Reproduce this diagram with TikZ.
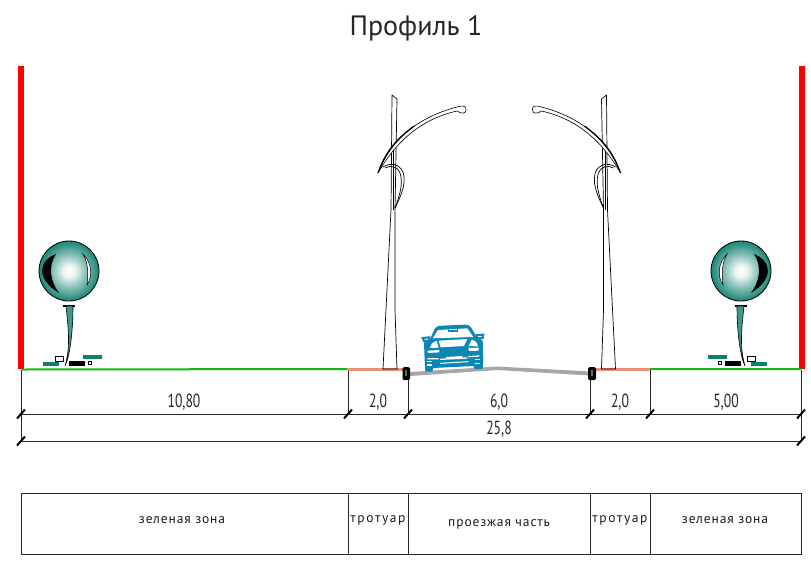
\documentclass[tikz,border=0pt]{standalone}
\usepackage{fontspec}
\setmainfont{PT Sans}
\newfontfamily\dimfont[FakeStretch=0.72]{PT Sans}
\newfontfamily\cellfont[LetterSpace=6.5]{PT Sans}
\newfontfamily\walkfont[LetterSpace=12]{PT Sans}
\definecolor{redwall}{HTML}{FF0000}
\definecolor{grass}{HTML}{10B810}
\definecolor{walk}{HTML}{E8927A}
\definecolor{roadgray}{HTML}{A6A6A6}
\definecolor{carblue}{HTML}{0C86B2}
\definecolor{treeteal}{HTML}{0E8070}
\pgfdeclareradialshading{ballteal}{\pgfpoint{0bp}{0bp}}{color(0bp)=(white); color(5bp)=(white!92!treeteal); color(14bp)=(treeteal!50); color(24bp)=(treeteal!92); color(32bp)=(treeteal); color(50bp)=(treeteal)}
\tikzset{
  redline/.style={draw=redwall,line width=5.6pt},
  grassline/.style={draw=grass,line width=2pt},
  walkline/.style={draw=walk,line width=3pt},
  extline/.style={draw=black!85,line width=.9pt},
  dimline/.style={draw=black!85,line width=.9pt},
  tick/.style={draw=black,line width=2pt},
  dimtext/.style={font=\dimfont\fontsize{19}{21}\selectfont,text=black!85,inner sep=0pt},
  cell/.style={draw=black!85,line width=.9pt,inner sep=0pt,anchor=north west},
  celltext/.style={inner sep=0pt,text=black!90,font=\cellfont\fontsize{13.5}{15}\selectfont},
  walktext/.style={inner sep=0pt,text=black!90,font=\walkfont\fontsize{13.5}{15}\selectfont},
  lampline/.style={draw=black,line width=.7pt,line join=round},
  treepic/.pic={
    \shade[shading=ballteal] (0,0) circle (30);
    \draw[black,line width=.8pt] (0,0) circle (30);
    \fill[black] (-13,-17) .. controls (-31,-10) and (-33,8) .. (-10,22) .. controls (-19,10) and (-21,-5) .. (-13,-17) -- cycle;
    \filldraw[fill=white,draw=black,line width=.5pt] (14,-17) .. controls (23,-8) and (24,5) .. (18,14) .. controls (19,4) and (20,-6) .. (14,-17) -- cycle;
    \draw[black,line width=1.3pt] (-6,35) -- (6,35);
    \filldraw[fill=treeteal!80,draw=black,line width=.6pt] (-3,35) .. controls (-1,55) and (2,75) .. (-4,95) .. controls (1,85) and (4,60) .. (4,35) -- cycle;
    \fill[treeteal] (-26,91) rectangle (-10,95);
    \filldraw[fill=white,draw=black,line width=.6pt] (-14,85) rectangle (-6,90);
    \fill[black] (0,90) rectangle (16,95);
    \fill[treeteal] (14,84) rectangle (33,88);
    \filldraw[fill=white,draw=black,line width=.6pt] (19.5,90) rectangle (22.5,93);
  },
  lamppic/.pic={
    \draw[lampline] (392,95) -- (397,99) -- (395,210) -- (395,310) -- (397,369) -- (383,369) -- (391,210) -- cycle;
    \draw[lampline,line width=.5pt] (393,150) -- (393,210);
    \filldraw[fill=white,draw=black,line width=.6pt] (378,173) .. controls (390,142) and (415,118) .. (457,107)
       .. controls (463,105) and (467,106) .. (466,110) .. controls (466,114) and (461,114) .. (457,111)
       .. controls (422,119) and (397,140) .. (378,173) -- cycle;
    \draw[line width=1.2pt,black] (378,173) .. controls (386,150) and (398,138) .. (414,126);
    \draw[lampline] (383,167) .. controls (391,162) and (399,164) .. (403,172) .. controls (406,182) and (403,192) .. (395,208);
    \draw[lampline] (385,168) .. controls (391,165) and (397,166) .. (400,173) .. controls (403,182) and (401,192) .. (395,208);
  }
}
\begin{document}
\begin{tikzpicture}[x=1pt,y=-1pt]
\useasboundingbox (0,0) rectangle (811,563);
% title
\node[inner sep=0pt,text=black!85,font=\fontsize{28}{30}\selectfont] (title) at (416,28) {Профиль 1};
% ground points
\coordinate (g0) at (21,370);
\coordinate (g1) at (348,370);
\coordinate (g2) at (408,370);
\coordinate (g3) at (590,370);
\coordinate (g4) at (650,370);
\coordinate (g5) at (801,370);
% dimension points
\coordinate (d0) at (21,414);
\coordinate (d1) at (348,414);
\coordinate (d2) at (408,414);
\coordinate (d3) at (590,414);
\coordinate (d4) at (650,414);
\coordinate (d5) at (801,414);
\coordinate (t0) at (21,441);
\coordinate (t5) at (801,441);
% red walls
\coordinate (w0) at (21,66);
\coordinate (w1) at (21,369);
\coordinate (w2) at (802,66);
\coordinate (w3) at (802,369);
\draw[redline] (w0) -- (w1);
\draw[redline] (w2) -- (w3);
% extension lines
\draw[extline] (g0) -- (t0);
\draw[extline] (g1) -- (d1);
\draw[extline] (g2) -- (d2);
\draw[extline] (g3) -- (d3);
\draw[extline] (g4) -- (d4);
\draw[extline] (g5) -- (t5);
% dimension lines
\draw[dimline] (d0) -- (d5);
\draw[dimline] (t0) -- (t5);
\foreach \p in {d0,d1,d2,d3,d4,d5,t0,t5}
  \draw[tick] ([shift={(-4,4.5)}]\p) -- ([shift={(4,-4.5)}]\p);
% ground
\coordinate (s0) at (22,369.5);
\coordinate (s1) at (347,369);
\coordinate (s2) at (407,369);
\coordinate (s3) at (591,369);
\coordinate (s4) at (650,369);
\coordinate (s5) at (801,369);
\draw[grassline] (s0) -- (s1);
\draw[grassline] (s4) -- (s5);
\draw[walkline] (s1) -- (s2);
\draw[walkline] (s3) -- (s4);
% road
\fill[roadgray] (410,372) -- (497,366.5) -- (590,371.5) -- (590,375.5) -- (497,370) -- (410,376) -- cycle;
% curbs
\fill[black,rounded corners=1.5pt] (402.5,367) rectangle (410,380);
\fill[black!60] (405,370) rectangle (407,376);
\fill[black,rounded corners=1.5pt] (588,367) rectangle (596,380);
\fill[black!60] (590.5,370) rectangle (592.5,376);
% trees
\pic at (69,271) {treepic};
\pic[xscale=-1] at (741,271) {treepic};
% lamps
\pic {lamppic};
\pic[xscale=-1] at (998.5,0) {lamppic};
% car
\begin{scope}[shift={(340,310)},scale=1/3]
  \fill[carblue] (268,92) -- (285,55) .. controls (290,48) and (295,48) .. (305,47) -- (375,44) .. controls (385,44) and (390,46) .. (395,55) -- (414,88) -- cycle;
  \filldraw[fill=white,draw=carblue,line width=2pt] (248,84) -- (268,82) -- (268,91) -- (252,93) -- cycle;
  \filldraw[fill=white,draw=carblue,line width=2pt] (410,75) -- (430,74) -- (428,84) -- (412,85) -- cycle;
  \fill[carblue] (252,98) -- (268,88) -- (414,82) -- (428,92) -- (430,150)
     -- (428,176) -- (404,178) -- (401,168) -- (280,174) -- (277,185) -- (256,185) -- (254,150) -- cycle;
  % windshield and its sign strip
  \fill[white] (278,85) -- (294,60) -- (382,55) -- (400,81) -- cycle;
  \filldraw[fill=white,draw=carblue,line width=1.4pt] (325,56) rectangle (352,63);
  % hood and wheel arches
  \fill[white] (296,92) -- (382,87) -- (372,108) -- (302,112) -- cycle;
  \fill[white] (270,114) .. controls (272,102) and (280,95) .. (290,93) -- (296,113) -- cycle;
  \fill[white] (386,108) -- (395,89) .. controls (405,91) and (412,98) .. (414,109) -- cycle;
  % head lights
  \fill[white] (262,122) -- (298,120) -- (298,127) -- (264,129) -- cycle;
  \fill[white] (385,114) -- (416,113) -- (416,122) -- (387,123) -- cycle;
  % grille
  \draw[white,line width=1.3pt] (262,146) -- (296,146) (300,148) -- (382,144) (385,140) -- (418,138);
  \draw[white,line width=1.1pt] (262,155) -- (276,155) (262,165) -- (276,165) (405,148) -- (420,148) (405,160) -- (420,160);
  \fill[white] (318,141) -- (368,138) -- (368,143) -- (318,146) -- cycle;
  \draw[white,line width=1pt] (300,160) -- (385,155);
\end{scope}
% dimension texts
\node[dimtext] (l1) at (184,402) {10,80};
\node[dimtext] (l2) at (378,402) {2,0};
\node[dimtext] (l3) at (499,402) {6,0};
\node[dimtext] (l4) at (620,402) {2,0};
\node[dimtext] (l5) at (726,402) {5,00};
\node[dimtext] (l6) at (499,429) {25,8};
% table
\node[cell,minimum width=327pt,minimum height=61pt] (c1) at (21,493) {};
\node[cell,minimum width=60pt,minimum height=61pt] (c2) at (348,493) {};
\node[cell,minimum width=182pt,minimum height=61pt] (c3) at (408,493) {};
\node[cell,minimum width=60pt,minimum height=61pt] (c4) at (590,493) {};
\node[cell,minimum width=151pt,minimum height=61pt] (c5) at (650,493) {};
\node[celltext] (x1) at (182,520) {зеленая зона};
\node[walktext] (x2) at (378,520) {тротуар};
\node[celltext] (x3) at (499,524) {проезжая часть};
\node[walktext] (x4) at (620,520) {тротуар};
\node[celltext] (x5) at (725,520) {зеленая зона};
\end{tikzpicture}
\end{document}
